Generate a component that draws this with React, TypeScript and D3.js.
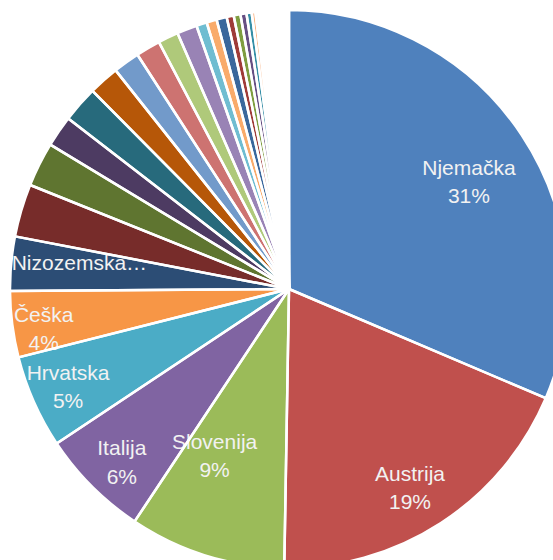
import React from 'react';
import * as d3 from 'd3';

const categories = [
  'Njemačka', 'Austrija', 'Slovenija', 'Italija', 'Hrvatska', 'Češka', 'Nizozemska',
  'Poljska', 'Mađarska', 'Slovačka', 'Francuska', 'Švicarska', 'Belgija', 'Ujedinjena Kraljevina',
  'Švedska', 'Danska', 'Rumunjska', 'Srbija', 'Španjolska', 'Rusija', 'Bosna i Hercegovina',
  'SAD', 'Bugarska', 'Ukrajina',
  'Norveška', 'Finska', 'Irska', 'Luksemburg', 'Grčka', 'Portugal', 'Litva', 'Latvija',
  'Estonija', 'Izrael', 'Kina', 'Japan', 'Kanada', 'Australija', 'Turska', 'Makedonija',
  'Crna Gora', 'Albanija', 'Malta', 'Cipar', 'Island', 'Brazil', 'Indija', 'Južna Koreja', 'Ostalo', 'Nepoznato'
];

const values = [
  31.4, 18.87, 9.06, 6.33, 5.40, 3.82, 3.14,
  3.06, 2.58, 1.81, 2.09, 1.77, 1.53, 1.42,
  1.18, 1.16, 0.61, 0.59, 0.59, 0.41, 0.39,
  0.35, 0.30, 0.22,
  0.15, 0.14, 0.13, 0.12, 0.11, 0.11, 0.10, 0.10,
  0.09, 0.09, 0.08, 0.08, 0.07, 0.07, 0.06, 0.06,
  0.05, 0.05, 0.04, 0.04, 0.04, 0.04, 0.03, 0.03, 0.02, 0.02
];

const palette = [
  '#4F81BD', '#C0504D', '#9BBB59', '#8064A2', '#4BACC6', '#F79646',
  '#2C4D75', '#772C2A', '#5F7530', '#4D3B62', '#276A7C', '#B65708',
  '#729ACA', '#CD7371', '#AFC97A', '#9983B5', '#6FBDD1', '#F9AB6B',
  '#3A679C', '#9F3B38', '#7E9D40', '#664F83', '#358EA6', '#F9B88A',
  '#94B3D6', '#D99694', '#C3D69B', '#B3A2C7', '#93CDDD', '#FAC090'
];

const labelPlacement: Record<string, { r: number; da: number; text?: string; pct: boolean }> = {
  'Njemačka': { r: 0.75, da: 2.8, pct: true },
  'Austrija': { r: 0.835, da: 1.7, pct: true },
  'Slovenija': { r: 0.656, da: 6.7, pct: true },
  'Italija': { r: 0.863, da: -1, pct: true },
  'Hrvatska': { r: 0.866, da: 0, pct: true },
  'Češka': { r: 0.891, da: -2, pct: true },
  'Nizozemska': { r: 0.757, da: 1.8, text: 'Nizozemska…', pct: false },
};

const W = 553, H = 560, CX = 289, CY = 289, R = 279;

export default function App() {
  const total = d3.sum(values);
  const arcs = d3.pie<number>().sort(null).value((d) => d)(values);
  const arc = d3.arc<d3.PieArcDatum<number>>().innerRadius(0).outerRadius(R);
  const color = d3.scaleOrdinal<number, string>().domain(d3.range(values.length)).range(palette);
  const font = "'Liberation Sans', Arial, sans-serif";

  return (
    <svg width={W} height={H} style={{ position: 'absolute', left: 0, top: 0, background: '#fff' }}>
      <g transform={`translate(${CX},${CY})`}>
        {arcs.map((a, i) => (
          <path key={'f' + i} d={arc(a) || ''} fill={color(i)} />
        ))}
        {arcs.map((a, i) => {
          const name = categories[i];
          const lp = labelPlacement[name];
          if (!lp) return null;
          const mid = (a.startAngle + a.endAngle) / 2 + (lp.da * Math.PI) / 180;
          const x = lp.r * R * Math.sin(mid);
          const y = -lp.r * R * Math.cos(mid);
          const pct = Math.round((values[i] / total) * 100) + '%';
          if (!lp.pct) {
            return (
              <text key={'l' + i} x={x} y={y + 7} textAnchor="middle" fill="#f2f2f2"
                fontFamily={font} fontSize={21}>{lp.text || name}</text>
            );
          }
          return (
            <text key={'l' + i} textAnchor="middle" fill="#f2f2f2" fontFamily={font} fontSize={21}>
              <tspan x={x} y={y - 7.25}>{lp.text || name}</tspan>
              <tspan x={x} y={y + 21.25}>{pct}</tspan>
            </text>
          );
        })}
        {arcs.map((a, i) => (
          <path key={'s' + i} d={arc(a) || ''} fill="none" stroke="#fff" strokeWidth={2.5} strokeLinejoin="round" />
        ))}
      </g>
    </svg>
  );
}
